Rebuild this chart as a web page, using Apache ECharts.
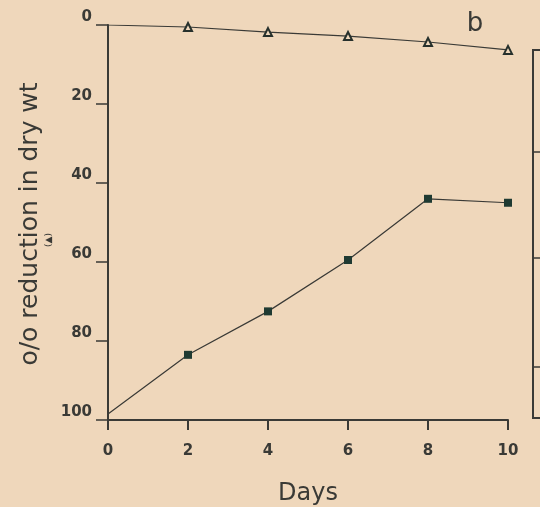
<!DOCTYPE html>
<html>
<head>
<meta charset="utf-8">
<script src="https://cdn.jsdelivr.net/npm/echarts@6/dist/echarts.min.js"></script>
<style>
  html, body { margin: 0; padding: 0; background: #efd7bb; }
  #chart { width: 540px; height: 507px; }
</style>
</head>
<body>
<div id="chart"></div>
<script>
var days = [0, 2, 4, 6, 8, 10];
var dryWtTriangle = [0, 0.5, 1.8, 2.8, 4.3, 6.3];
var dryWtSquare = [98.5, 83.5, 72.5, 59.5, 44, 45];
var yTicks = [0, 20, 40, 60, 80, 100];

var ink = '#3a3a36';
var bg = '#efd7bb';

function pairs(ys) {
  return days.map(function (d, i) {
    return { value: [d, ys[i]], symbol: i === 0 ? 'none' : undefined };
  });
}

var chart = echarts.init(document.getElementById('chart'));
chart.setOption({
  backgroundColor: bg,
  animation: false,
  textStyle: { fontFamily: 'DejaVu Sans' },
  grid: { left: 108, top: 25, width: 400, height: 395, outerBoundsMode: 'none', containLabel: false },
  xAxis: {
    type: 'value',
    position: 'bottom',
    min: 0, max: 10, interval: 2,
    axisLine: { show: true, onZero: false, lineStyle: { color: ink, width: 2 } },
    axisTick: { show: true, length: 10, lineStyle: { color: ink, width: 2 } },
    axisLabel: { color: ink, fontSize: 15, fontWeight: 'bold', margin: 24 },
    splitLine: { show: false },
    name: 'Days',
    nameLocation: 'middle',
    nameGap: 62,
    nameTextStyle: { color: ink, fontSize: 24 }
  },
  yAxis: {
    type: 'value',
    inverse: true,
    min: 0, max: 100, interval: 20,
    axisLine: { show: true, onZero: false, lineStyle: { color: ink, width: 2 } },
    axisTick: { show: true, length: 12, lineStyle: { color: ink, width: 1.5 } },
    axisLabel: {
      color: ink, fontSize: 15, fontWeight: 'bold', margin: 16, verticalAlign: 'bottom',
      formatter: function (v) { return yTicks.indexOf(v) >= 0 ? String(v) : ''; }
    },
    splitLine: { show: false }
  },
  series: [
    {
      type: 'line',
      data: pairs(dryWtTriangle),
      symbol: 'triangle',
      symbolSize: 8,
      showAllSymbol: true,
      lineStyle: { color: ink, width: 1.2 },
      itemStyle: { color: bg, borderColor: '#26302c', borderWidth: 2 }
    },
    {
      type: 'line',
      data: pairs(dryWtSquare),
      symbol: 'rect',
      symbolSize: 8,
      showAllSymbol: true,
      lineStyle: { color: ink, width: 1.2 },
      itemStyle: { color: '#1f3a32' }
    }
  ],
  graphic: [
    {
      type: 'text', x: 30, y: 224, rotation: Math.PI / 2,
      style: { text: 'o/o reduction in dry wt', fill: ink, font: '25px "DejaVu Sans"', align: 'center', verticalAlign: 'middle' }
    },
    {
      type: 'text', x: 49, y: 240, rotation: Math.PI / 2,
      style: { text: '(▲)', fill: ink, font: '9px "DejaVu Sans"', align: 'center', verticalAlign: 'middle' }
    },
    {
      type: 'text', x: 475, y: 24,
      style: { text: 'b', fill: ink, font: '26px "DejaVu Sans"', align: 'center', verticalAlign: 'middle' }
    },
    {
      type: 'polyline',
      shape: { points: [[545, 50], [533, 50], [533, 418], [545, 418]] },
      style: { stroke: ink, lineWidth: 2, fill: null }
    },
    { type: 'line', shape: { x1: 533, y1: 152, x2: 541, y2: 152 }, style: { stroke: ink, lineWidth: 1.5 } },
    { type: 'line', shape: { x1: 533, y1: 258, x2: 541, y2: 258 }, style: { stroke: ink, lineWidth: 1.5 } },
    { type: 'line', shape: { x1: 533, y1: 367, x2: 541, y2: 367 }, style: { stroke: ink, lineWidth: 1.5 } }
  ]
});
</script>
</body>
</html>
